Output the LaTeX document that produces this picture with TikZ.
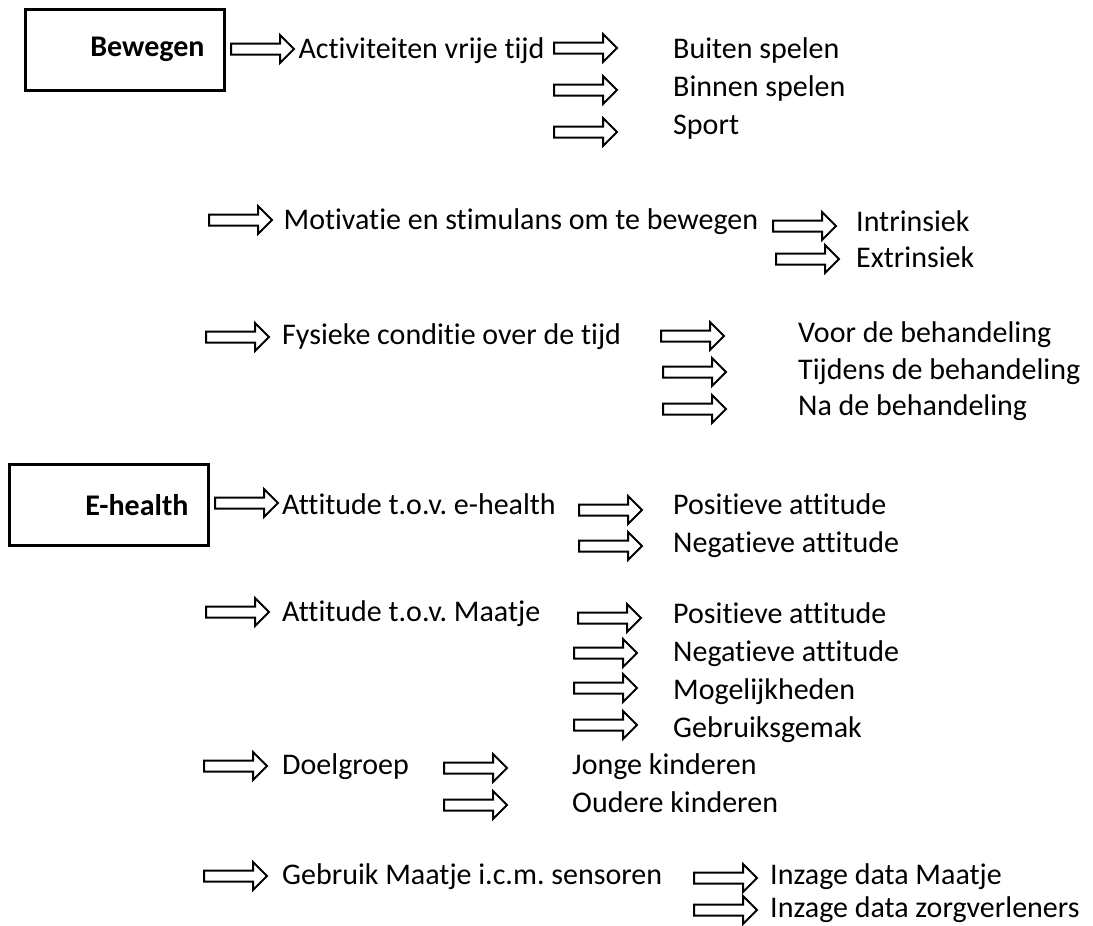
\documentclass[tikz,border=0pt]{standalone}
\usepackage{fontspec}
\setmainfont{Carlito}[Ligatures=NoCommon]
\usetikzlibrary{shapes.arrows,positioning}
\frenchspacing
\tikzstyle{catbox} = [rectangle, draw=black, line width=3pt, minimum width=199pt, minimum height=81pt, text width=160pt, align=right, inner sep=0pt, font=\fontsize{30}{36}\selectfont\bfseries]
\tikzstyle{blockarrow} = [single arrow, draw=black, fill=white, line width=2pt, minimum height=63pt, inner xsep=0pt, inner ysep=4.5pt, single arrow head extend=8.5pt, single arrow tip angle=90, anchor=tail]
\tikzstyle{item} = [anchor=west, inner sep=0pt, text height=19pt, text depth=0pt, font=\fontsize{30}{36}\selectfont]

\begin{document}
\begin{tikzpicture}[x=1pt, y=-1pt]
		
		\useasboundingbox (0,0) rectangle (1093,926);
		
		% Bewegen
		\node (bew) [catbox] at (124.5,49.5) {Bewegen};
		
		\node (aBew) [blockarrow] at (230,49) {};
		
		\node (Act) [item, right = 3pt of aBew.tip] {Activiteiten vrije tijd};
		
		\node (aAct1) [blockarrow] at (553,48) {};
		\node (aAct2) [blockarrow] at (553,90) {};
		\node (aAct3) [blockarrow] at (553,132) {};
		
		\node (Buiten) [item] at (673,49) {Buiten spelen};
		\node (Binnen) [item] at (673,87) {Binnen spelen};
		\node (Sport) [item] at (673,125) {Sport};
		
		\node (aMot) [blockarrow] at (208,220) {};
		
		\node (Mot) [item, right = 10pt of aMot.tip] {Motivatie en stimulans om te bewegen};
		
		\node (aMot1) [blockarrow] at (772,226) {};
		\node (aMot2) [blockarrow] at (775,259) {};
		
		\node (Intr) [item] at (856,222) {Intrinsiek};
		\node (Extr) [item] at (856,258) {Extrinsiek};
		
		\node (aFys) [blockarrow] at (205,337) {};
		
		\node (Fys) [item] at (282,335) {Fysieke conditie over de tijd};
		
		\node (aFys1) [blockarrow] at (660,336) {};
		\node (aFys2) [blockarrow] at (662,372) {};
		\node (aFys3) [blockarrow] at (662,409) {};
		
		\node (Voor) [item] at (798,333) {Voor de behandeling};
		\node (Tijd) [item] at (798,370) {Tijdens de behandeling};
		\node (Na) [item] at (798,406) {Na de behandeling};
		
		% E-health
		\node (eh) [catbox] at (108.5,505) {E-health};
		
		\node (aEh) [blockarrow] at (214,503) {};
		
		\node (Att) [item] at (282,505) {Attitude t.o.v. e-health};
		
		\node (aAtt1) [blockarrow] at (578,510) {};
		\node (aAtt2) [blockarrow] at (578,546) {};
		
		\node (Pos1) [item] at (673,505) {Positieve attitude};
		\node (Neg1) [item] at (673,543) {Negatieve attitude};
		
		\node (aMaat) [blockarrow] at (205,612) {};
		
		\node (Maat) [item] at (282,612) {Attitude t.o.v. Maatje};
		
		\node (aMaat1) [blockarrow] at (577,618) {};
		\node (aMaat2) [blockarrow] at (573,653) {};
		\node (aMaat3) [blockarrow] at (573,688) {};
		\node (aMaat4) [blockarrow] at (573,725) {};
		
		\node (Pos2) [item] at (673,614) {Positieve attitude};
		\node (Neg2) [item] at (673,652) {Negatieve attitude};
		\node (Mog) [item] at (673,690) {Mogelijkheden};
		\node (Gem) [item] at (673,728) {Gebruiksgemak};
		
		\node (aDoel) [blockarrow] at (203,766) {};
		
		\node (Doel) [item] at (282,765) {Doelgroep};
		
		\node (aDoel1) [blockarrow] at (443,768) {};
		\node (aDoel2) [blockarrow] at (443,805) {};
		
		\node (Jong) [item] at (572,765) {Jonge kinderen};
		\node (Oud) [item] at (572,803) {Oudere kinderen};
		
		\node (aSen) [blockarrow] at (203,876) {};
		
		\node (Sen) [item] at (282,875) {Gebruik Maatje i.c.m. sensoren};
		
		\node (aSen1) [blockarrow] at (693,878) {};
		\node (aSen2) [blockarrow] at (693,910) {};
		
		\node (Inz1) [item] at (770,875) {Inzage data Maatje};
		\node (Inz2) [item] at (770,908) {Inzage data zorgverleners};
		
\end{tikzpicture}
\end{document}
